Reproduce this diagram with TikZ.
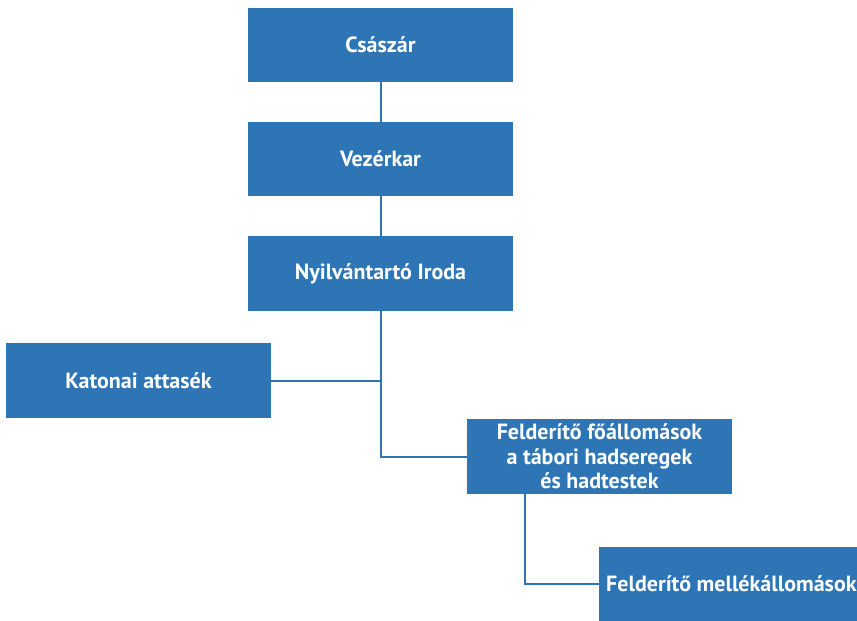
\documentclass[tikz,border=0pt]{standalone}
\usepackage{fontspec}
\setmainfont{PT Sans}
\definecolor{boxblue}{HTML}{2E75B6}
\begin{document}
\begin{tikzpicture}[x=1pt,y=-1pt,
  box/.style={fill=boxblue, draw=none, text=white, font=\bfseries\fontsize{22}{24.5}\selectfont,
    inner sep=0pt, align=center, minimum width=265pt, minimum height=75pt},
  lbl/.style={text=white, font=\bfseries\fontsize{22}{24.5}\selectfont, inner sep=0pt},
  conn/.style={draw=boxblue, line width=2pt}]
\useasboundingbox (0,0) rectangle (857,621);
\node[box, minimum height=74pt] (cs) at (380.5,45) {Császár};
\node[box, minimum height=74pt] (vez) at (380.5,159) {Vezérkar};
\node[box] (ny) at (380.5,273.5) {Nyilvántartó Iroda};
\node[box] (kat) at (138.5,380.5) {Katonai attasék};
\node[box] (fel) at (599.5,456.5) {Felderítő főállomások\\a tábori hadseregek\\és hadtestek};
\node[box, minimum height=74pt] (mel) at (731.5,584) {};
\node[lbl, anchor=west] (meltxt) at (606,584) {Felderítő mellékállomások};
\draw[conn] (cs.south) -- (vez.north);
\draw[conn] (vez.south) -- (ny.north);
\draw[conn] (ny.south) |- (fel.west);
\draw[conn] (kat.east) -- (kat.east -| ny.south);
\draw[conn] ([xshift=58.5pt]fel.south west) |- (mel.west);
\end{tikzpicture}
\end{document}
